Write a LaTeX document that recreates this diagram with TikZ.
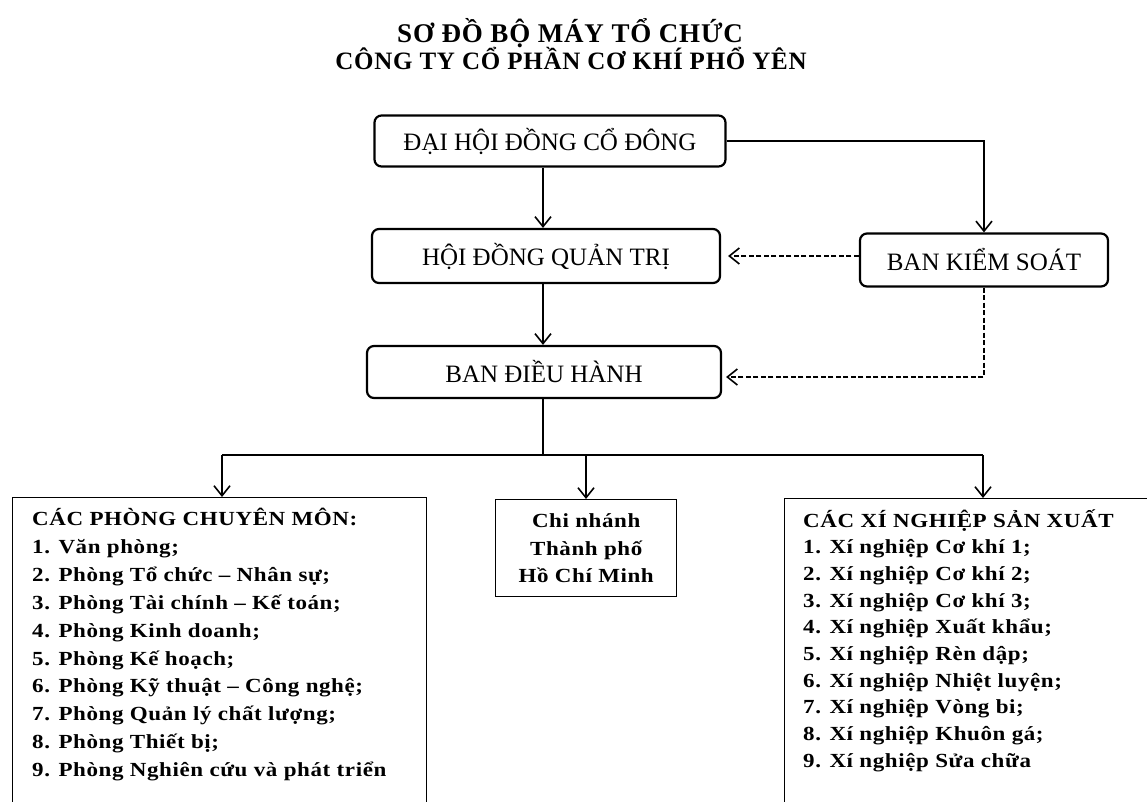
\documentclass[tikz,border=0pt]{standalone}
\usepackage{fontspec}
\setmainfont{Liberation Serif}
\newfontfamily\listfont[FakeStretch=1.15,LetterSpace=3]{Liberation Serif}
\newfontfamily\titlefont[LetterSpace=3]{Liberation Serif}
\usetikzlibrary{arrows.meta}
\begin{document}
\begin{tikzpicture}[x=1pt,y=-1pt,
  topbox/.style={draw,line width=2.2pt,rounded corners=7pt,inner sep=0pt,font=\fontsize{25}{28}\selectfont},
  framebox/.style={draw,line width=1.4pt,inner sep=0pt,anchor=north west},
  listtext/.style={anchor=north west,inner sep=0pt,align=left,font=\listfont\bfseries\fontsize{20}{27.9}\selectfont},
  arr/.style={-{Straight Barb[length=10pt,width=16pt,line width=1.6pt]},line width=1.6pt},
  dasharr/.style={arr,dash pattern=on 5pt off 2.5pt}]
\useasboundingbox (0,0) rectangle (1147,801);
\clip (0,0) rectangle (1147,801);
\fill[white] (0,0) rectangle (1147,801);
\node[font=\titlefont\bfseries\fontsize{27}{30}\selectfont] (title1) at (570,33) {SƠ ĐỒ BỘ MÁY TỔ CHỨC};
\node[font=\titlefont\bfseries\fontsize{25}{28}\selectfont] (title2) at (571,58) {CÔNG TY CỔ PHẦN CƠ KHÍ PHỔ YÊN};
\node[topbox,minimum width=351,minimum height=51] (dhcd) at (550,141) {ĐẠI HỘI ĐỒNG CỔ ĐÔNG};
\node[topbox,minimum width=348,minimum height=54] (hdqt) at (546,256) {HỘI ĐỒNG QUẢN TRỊ};
\node[topbox,minimum width=248,minimum height=53] (bks) at (984,260) {BAN KIỂM SOÁT};
\node[topbox,minimum width=354,minimum height=52] (bdh) at (544,372) {BAN ĐIỀU HÀNH};
\node[framebox,minimum width=414,minimum height=330] (phong) at (12,497) {};
\node[framebox,minimum width=181,minimum height=97] (chinhanh) at (495,499) {};
\node[framebox,minimum width=400,minimum height=330] (xn) at (784,498) {};
\node[listtext] (phongtxt) at ([shift={(20,11)}]phong.north west)
  {CÁC PHÒNG CHUYÊN MÔN:\\1. Văn phòng;\\2. Phòng Tổ chức – Nhân sự;\\3. Phòng Tài chính – Kế toán;\\4. Phòng Kinh doanh;\\5. Phòng Kế hoạch;\\6. Phòng Kỹ thuật – Công nghệ;\\7. Phòng Quản lý chất lượng;\\8. Phòng Thiết bị;\\9. Phòng Nghiên cứu và phát triển};
\node[listtext,align=center,anchor=center,font=\listfont\bfseries\fontsize{20}{27.5}\selectfont] (chinhanhtxt) at (chinhanh.center)
  {Chi nhánh\\Thành phố\\Hồ Chí Minh};
\node[listtext,font=\listfont\bfseries\fontsize{20}{26.7}\selectfont] (xntxt) at ([shift={(19,11)}]xn.north west)
  {CÁC XÍ NGHIỆP SẢN XUẤT\\1. Xí nghiệp Cơ khí 1;\\2. Xí nghiệp Cơ khí 2;\\3. Xí nghiệp Cơ khí 3;\\4. Xí nghiệp Xuất khẩu;\\5. Xí nghiệp Rèn dập;\\6. Xí nghiệp Nhiệt luyện;\\7. Xí nghiệp Vòng bi;\\8. Xí nghiệp Khuôn gá;\\9. Xí nghiệp Sửa chữa};
\coordinate (split) at (543,455);
\draw[arr] (dhcd.south -| split) -- (hdqt.north -| split);
\draw[arr] (dhcd.east) -| (bks.north);
\draw[dasharr] (bks.west |- hdqt.east) -- ([xshift=7pt]hdqt.east);
\draw[arr] (hdqt.south -| split) -- (bdh.north -| split);
\draw[dasharr] (bks.south) |- ([xshift=4pt,yshift=-5pt]bdh.east);
\draw[line width=1.6pt] (bdh.south -| split) -- (split);
\draw[line width=1.6pt] (222,455) -- (983,455);
\draw[arr] (split -| 222,0) -- (phong.north -| 222,0);
\draw[arr] (split -| 586,0) -- (chinhanh.north -| 586,0);
\draw[arr] (split -| 983,0) -- (xn.north -| 983,0);
\end{tikzpicture}
\end{document}
